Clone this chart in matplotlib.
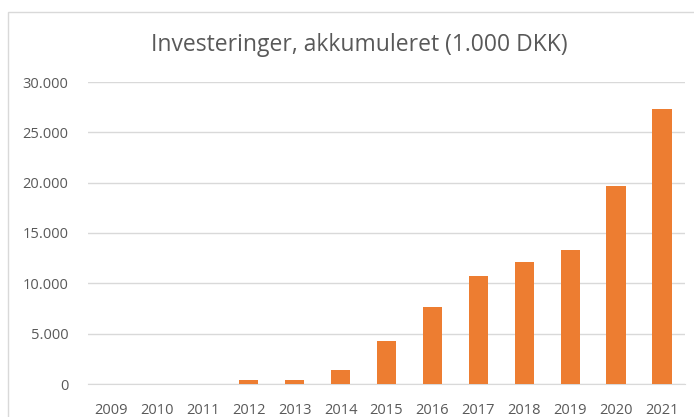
import matplotlib.pyplot as plt
import matplotlib.ticker as ticker
from matplotlib.patches import Rectangle

years = ["2009", "2010", "2011", "2012", "2013", "2014", "2015",
         "2016", "2017", "2018", "2019", "2020", "2021"]
values = [0, 0, 0, 350, 350, 1400, 4300, 7600, 10700, 12150, 13300, 19650, 27300]
yticks = [0, 5000, 10000, 15000, 20000, 25000, 30000]

plt.rcParams['font.family'] = ['Open Sans', 'DejaVu Sans']

fig = plt.figure(figsize=(6.94, 4.17), dpi=100)
# chart border like the Excel frame
fig.patches.append(Rectangle((8 / 694, -0.05), 1.0, 1.05 - 12 / 417, transform=fig.transFigure,
                             fill=False, edgecolor='#d9d9d9', linewidth=1.0))

ax = fig.add_axes([88 / 694, (417 - 384) / 417, (685 - 88) / 694, (384 - 82) / 417])

x = range(len(years))
ax.bar(x, values, width=0.42, color='#ed7d31', zorder=3)

ax.set_ylim(0, 30000)
ax.set_xlim(-0.5, len(years) - 0.5)
ax.set_yticks(yticks)
ax.yaxis.set_major_formatter(ticker.FuncFormatter(lambda v, p: f"{int(v):,}".replace(",", ".")))
ax.set_xticks(list(x))
ax.set_xticklabels(years)

ax.grid(axis='y', color='#d9d9d9', linewidth=1.0, zorder=0)
for s in ['top', 'right', 'left']:
    ax.spines[s].set_visible(False)
ax.spines['bottom'].set_color('#d9d9d9')
ax.tick_params(axis='both', length=0, labelsize=10.5, colors='#595959')
ax.tick_params(axis='x', pad=14)
ax.tick_params(axis='y', pad=14)

fig.text(359 / 694, 1 - 45 / 417, "Investeringer, akkumuleret (1.000 DKK)", ha='center', va='center',
         fontsize=16.5, color='#595959')

plt.savefig("out.png", dpi=100)
